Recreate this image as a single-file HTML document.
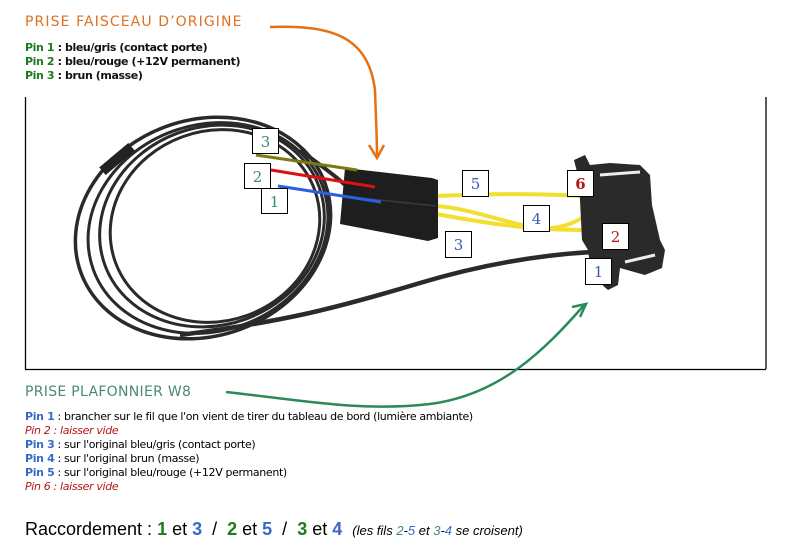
<!DOCTYPE html>
<html><head><meta charset="utf-8"><style>
body{margin:0;background:#fff;width:785px;height:550px;overflow:hidden;position:relative;font-family:"DejaVu Sans","Liberation Sans",sans-serif}
.t{position:absolute;white-space:nowrap}
.v{font-size:11px;letter-spacing:-0.35px;color:#000;line-height:14px}
.g{color:#1e7a1e}.b{color:#3a68c8}.r{color:#b01818;font-style:italic}
</style></head><body>
<svg width="785" height="550" style="position:absolute;left:0;top:0">
<g fill="none" stroke="#000" stroke-width="1.3">
<line x1="25.5" y1="97" x2="25.5" y2="369"/>
<line x1="25" y1="369.5" x2="766" y2="369.5"/>
<line x1="766" y1="97" x2="766" y2="369"/>
</g>
<!-- cable loop -->
<g fill="none" stroke="#2a2a2a">
<ellipse cx="203" cy="228" rx="130" ry="108" transform="rotate(-20 203 228)" stroke-width="3.5"/>
<ellipse cx="208" cy="228" rx="122" ry="103" transform="rotate(-20 208 228)" stroke-width="3"/>
<ellipse cx="212" cy="226" rx="114" ry="99" transform="rotate(-20 212 226)" stroke-width="3"/>
<ellipse cx="215" cy="226" rx="106" ry="95" transform="rotate(-20 215 226)" stroke-width="3"/>
<path d="M180,335 C280,322 330,310 420,283 C480,265 540,255 592,252" stroke-width="4.5"/>
<path d="M300,150 C320,165 335,175 345,185" stroke-width="4"/>
</g>
<rect x="112" y="140" width="10" height="38" fill="#222" transform="rotate(50 117 159)"/>
<!-- yellow wires -->
<g fill="none" stroke="#f2e030" stroke-width="4" stroke-linecap="round">
<path d="M436,196 C480,194 530,193 580,196"/>
<path d="M436,206 C470,208 510,225 540,228 C560,230 575,222 582,218"/>
<path d="M436,214 C470,220 520,230 582,230"/>
</g>
<!-- connector 1 -->
<path d="M345,168 L432,178 L438,180 L438,238 L428,241 L340,224 Z" fill="#1e1e1e"/>
<path d="M342,196 L436,206" stroke="#3a3a3a" stroke-width="1.5"/>
<!-- connector 2 -->
<path d="M578,176 L574,160 L585,155 L590,165 L610,163 L640,165 L650,175 L652,205 L660,240 L665,250 L662,268 L645,275 L620,268 L618,285 L608,290 L600,283 L592,280 L588,250 L582,240 L580,200 Z" fill="#2a2a2a"/>
<path d="M600,175 L640,172" stroke="#eee" stroke-width="3"/>
<path d="M625,262 L655,255" stroke="#eee" stroke-width="3"/>
<!-- colored overlay lines -->
<line x1="256" y1="155" x2="357" y2="170" stroke="#7a7a10" stroke-width="3"/>
<line x1="271" y1="170" x2="375" y2="187" stroke="#e01010" stroke-width="3"/>
<line x1="278" y1="186" x2="381" y2="202" stroke="#2a60e0" stroke-width="3"/>
<!-- arrows -->
<path d="M270,27 C330,25 368,35 375,90 C376,120 377,140 377,157" fill="none" stroke="#e87010" stroke-width="2.5"/>
<path d="M369,145 L377,158 L384,145" fill="none" stroke="#e87010" stroke-width="2.5"/>
<path d="M226,392 C300,400 360,412 430,404 C500,395 545,350 585,304" fill="none" stroke="#2a8a5a" stroke-width="2.5"/>
<path d="M572,307 L586,304 L580,317" fill="none" stroke="#2a8a5a" stroke-width="2.5"/>
<!-- label boxes -->
<g fill="#fff" stroke="#000" stroke-width="1">
<rect x="252.5" y="128.5" width="26" height="25"/>
<rect x="244.5" y="163.5" width="26" height="25"/>
<rect x="261.5" y="188.5" width="26" height="25"/>
<rect x="462.5" y="170.5" width="26" height="26"/>
<rect x="567.5" y="170.5" width="26" height="26"/>
<rect x="523.5" y="205.5" width="26" height="26"/>
<rect x="445.5" y="231.5" width="26" height="26"/>
<rect x="602.5" y="223.5" width="26" height="26"/>
<rect x="585.5" y="258.5" width="26" height="26"/>
</g>
<g font-family="DejaVu Serif,Liberation Serif,serif" font-size="15" text-anchor="middle">
<text x="265.5" y="147" fill="#3a8a7a">3</text>
<text x="257.5" y="182" fill="#3a8a7a">2</text>
<text x="274.5" y="207" fill="#3a8a7a">1</text>
<text x="475.5" y="189" fill="#3a5ab8">5</text>
<text x="580.5" y="189" fill="#b01818" font-weight="bold">6</text>
<text x="536.5" y="224" fill="#3a5ab8">4</text>
<text x="458.5" y="250" fill="#3a5ab8">3</text>
<text x="615.5" y="242" fill="#b01818">2</text>
<text x="598.5" y="277" fill="#3a5ab8">1</text>
</g>
</svg>
<div class="t" style="left:25px;top:14px;font-size:14px;letter-spacing:1.1px;color:#e07020">PRISE FAISCEAU D’ORIGINE</div>
<div class="t" style="left:25px;top:41px;font-size:11px;line-height:14px;letter-spacing:-0.4px;font-weight:bold;color:#111"><span class="g">Pin 1</span> : bleu/gris (contact porte)<br><span class="g">Pin 2</span> : bleu/rouge (+12V permanent)<br><span class="g">Pin 3</span> : brun (masse)</div>
<div class="t" style="left:25px;top:384px;font-size:14px;letter-spacing:0.3px;color:#4a8a72">PRISE PLAFONNIER W8</div>
<div class="t v" style="left:25px;top:410px"><b class="b">Pin 1</b> : brancher sur le fil que l'on vient de tirer du tableau de bord (lumière ambiante)<br><span class="r">Pin 2 : laisser vide</span><br><b class="b">Pin 3</b> : sur l'original bleu/gris (contact porte)<br><b class="b">Pin 4</b> : sur l'original brun (masse)<br><b class="b">Pin 5</b> : sur l'original bleu/rouge (+12V permanent)<br><span class="r">Pin 6 : laisser vide</span></div>
<div class="t" style="left:25px;top:519px;font-family:'Liberation Sans',sans-serif;font-size:18px;color:#000">Raccordement : <b class="g">1</b> et <b class="b">3</b> &nbsp;/ &nbsp;<b class="g">2</b> et <b class="b">5</b> &nbsp;/ &nbsp;<b class="g">3</b> et <b class="b">4</b> &nbsp;<i style="font-size:13px">(les fils <span style="color:#3a8a7a">2</span>-<span class="b">5</span> et <span style="color:#3a8a7a">3</span>-<span class="b">4</span> se croisent)</i></div>
</body></html>
